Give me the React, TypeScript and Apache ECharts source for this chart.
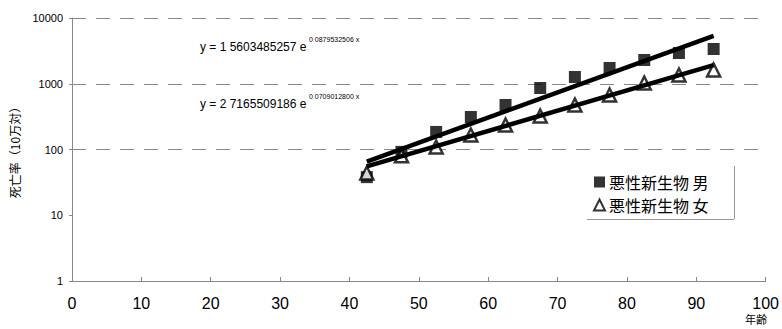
import React, { useEffect, useRef } from "react";
import * as echarts from "echarts";

const ages = [42.5, 47.5, 52.5, 57.5, 62.5, 67.5, 72.5, 77.5, 82.5, 87.5, 92.5];
const maleRates = [38, 92, 185, 312, 475, 861, 1267, 1737, 2297, 2937, 3378];
const femaleRates = [44, 80, 109, 166, 236, 323, 475, 674, 1027, 1359, 1619];
const maleFit = { a: 1.5603485257, b: 0.0879532506 };
const femaleFit = { a: 2.7165509186, b: 0.07090128 };
const trendRange = [42.5, 92.5];
const gridLevels = [10000, 1000, 100];
const xTicks = { min: 0, max: 100, interval: 10 };
const yTicks = { min: 1, max: 10000 };
const maleName = "悪性新生物 男";
const femaleName = "悪性新生物 女";
const eq1Main = "y = 1 5603485257 e";
const eq1Sup = "0 0879532506 x";
const eq2Main = "y = 2 7165509186 e";
const eq2Sup = "0 0709012800 x";

const FONT = "'Liberation Sans', Arial, 'Noto Sans CJK JP', sans-serif";
const JFONT = "'Noto Sans CJK JP', 'Liberation Sans', sans-serif";

export default function App() {
  const ref = useRef<HTMLDivElement>(null);
  useEffect(() => {
    if (!ref.current) return;
    const chart = echarts.init(ref.current, null, { renderer: "svg" });
    const trend = (f: { a: number; b: number }) =>
      trendRange.map((x) => [x, f.a * Math.exp(f.b * x)]);
    chart.setOption({
      animation: false,
      backgroundColor: "#fff",
      grid: { left: 70, right: 16, top: 18, bottom: 48, containLabel: false },
      xAxis: {
        type: "value",
        min: xTicks.min,
        max: xTicks.max,
        interval: xTicks.interval,
        axisLine: { show: true, lineStyle: { color: "#888", width: 1 } },
        axisTick: { show: true, inside: true, length: 4, lineStyle: { color: "#888" } },
        splitLine: { show: false },
        axisLabel: { color: "#000", fontSize: 16, fontFamily: FONT, margin: 14 },
      },
      yAxis: {
        type: "log",
        logBase: 10,
        min: yTicks.min,
        max: yTicks.max,
        axisLine: { show: true, lineStyle: { color: "#888", width: 1 } },
        axisTick: { show: true, length: 3, lineStyle: { color: "#888" } },
        splitLine: { show: false },
        axisLabel: {
          color: "#000",
          fontSize: 11,
          fontFamily: FONT,
          margin: 9,
          formatter: (v: number) => String(Math.round(v)),
        },
        name: "死亡率（10万対）",
        nameLocation: "middle",
        nameRotate: 90,
        nameGap: 52,
        nameTextStyle: { color: "#000", fontSize: 12, fontFamily: JFONT },
      },
      legend: {
        orient: "vertical",
        left: 588,
        top: 169,
        itemGap: 7,
        itemWidth: 11,
        itemHeight: 11,
        textStyle: { fontSize: 16, lineHeight: 16, color: "#000", fontFamily: JFONT, padding: [0, 0, 0, -1] },
        data: [
          { name: maleName, icon: "rect" },
          { name: femaleName, icon: "triangle" },
        ],
      },
      series: [
        {
          name: maleName,
          type: "scatter",
          symbol: "rect",
          symbolSize: 12,
          itemStyle: { color: "#000" },
          data: ages.map((a, i) => [a, maleRates[i]]),
          z: 3,
          markLine: {
            silent: true,
            symbol: "none",
            label: { show: false },
            lineStyle: { color: "#888", width: 1, type: [14, 10] },
            data: gridLevels.map((v) => ({ yAxis: v })),
            z: 1,
          },
        },
        {
          name: femaleName,
          type: "scatter",
          symbol: "triangle",
          symbolSize: 13,
          itemStyle: { color: "#fff", borderColor: "#000", borderWidth: 2.5 },
          data: ages.map((a, i) => [a, femaleRates[i]]),
          z: 4,
        },
        {
          name: "trendM",
          type: "line",
          data: trend(maleFit),
          showSymbol: false,
          symbol: "none",
          lineStyle: { color: "#000", width: 4.5 },
          z: 5,
        },
        {
          name: "trendF",
          type: "line",
          data: trend(femaleFit),
          showSymbol: false,
          symbol: "none",
          lineStyle: { color: "#000", width: 4.5 },
          z: 5,
        },
      ],
      graphic: [
        { type: "text", left: 200, top: 41, style: { text: eq1Main, fontSize: 12, fontFamily: FONT, fill: "#000" } },
        { type: "text", left: 309, top: 36, style: { text: eq1Sup, fontSize: 7, fontFamily: FONT, fill: "#000" } },
        { type: "text", left: 200, top: 98, style: { text: eq2Main, fontSize: 12, fontFamily: FONT, fill: "#000" } },
        { type: "text", left: 309, top: 93, style: { text: eq2Sup, fontSize: 7, fontFamily: FONT, fill: "#000" } },
        { type: "text", left: 745, top: 313, style: { text: "年齢", fontSize: 11, fontFamily: JFONT, fill: "#000" } },
        { type: "line", shape: { x1: 587, y1: 219.5, x2: 734, y2: 219.5 }, style: { stroke: "#999", lineWidth: 1 } },
        { type: "line", shape: { x1: 734.5, y1: 166, x2: 734.5, y2: 219 }, style: { stroke: "#999", lineWidth: 1 } },
      ],
    });
    return () => chart.dispose();
  }, []);
  return <div ref={ref} style={{ width: 782, height: 329, position: "absolute", left: 0, top: 0 }} />;
}
